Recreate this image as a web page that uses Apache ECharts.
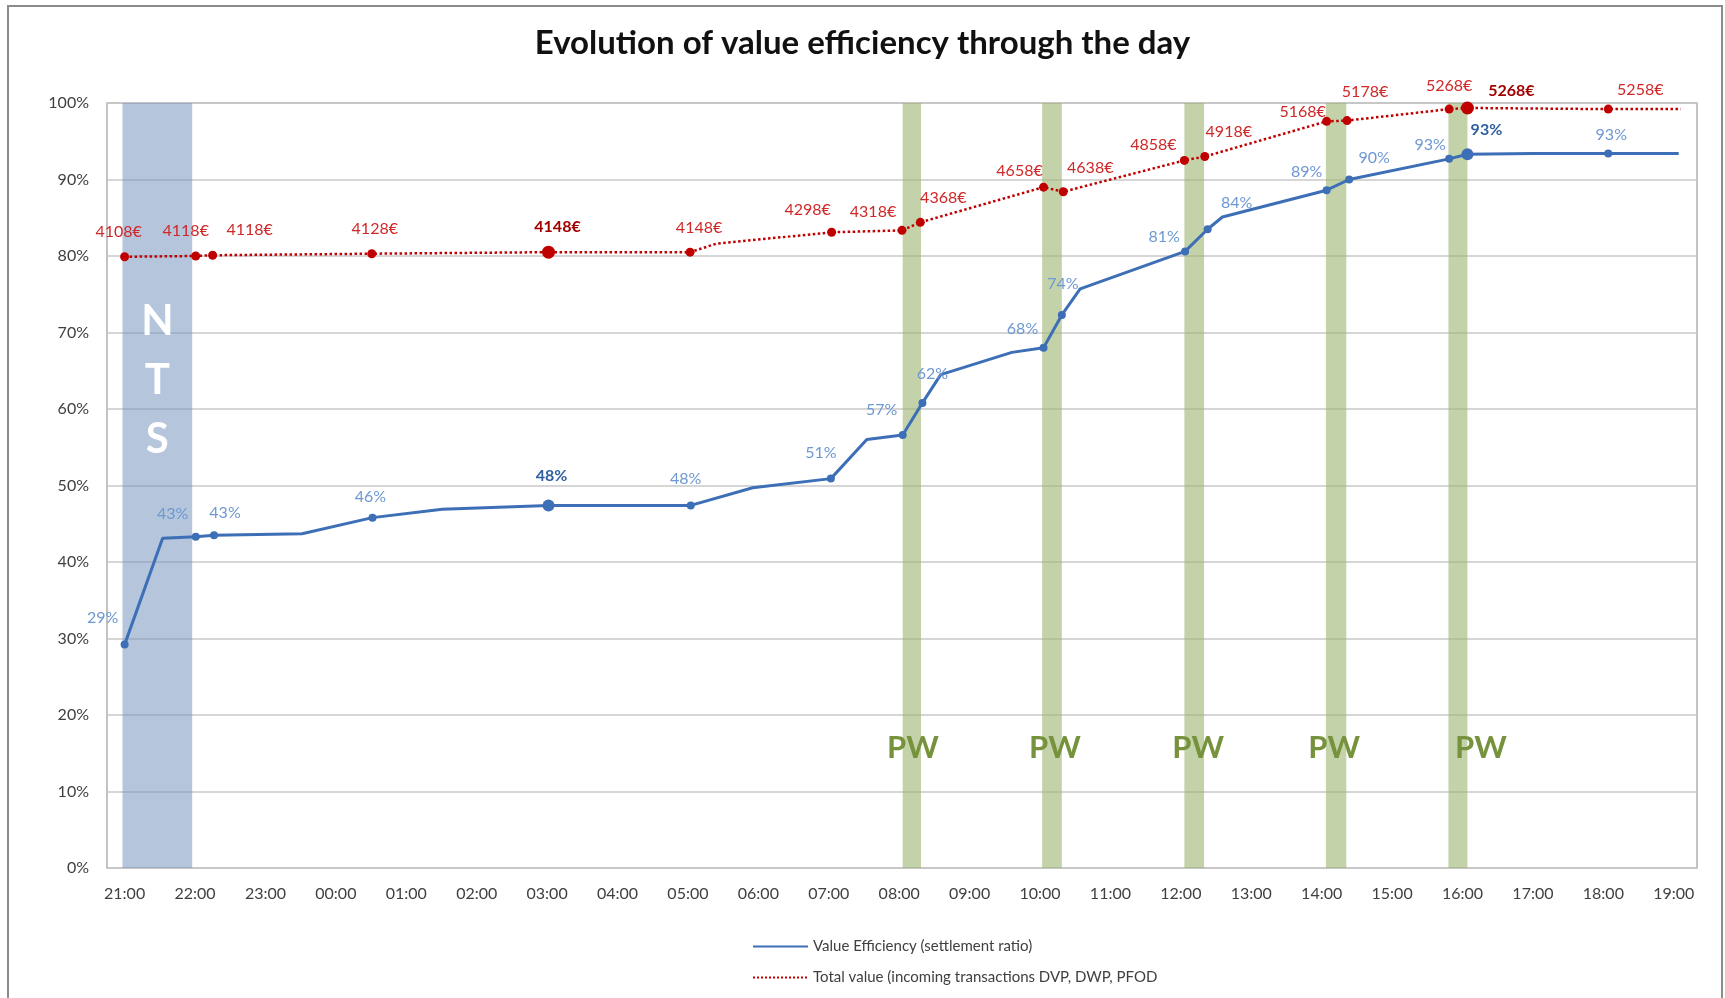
<!DOCTYPE html>
<html>
<head>
<meta charset="utf-8">
<title>Evolution of value efficiency through the day</title>
<script src="https://cdn.jsdelivr.net/npm/echarts@6/dist/echarts.min.js"></script>
<style>
  html, body { margin: 0; padding: 0; background: #fff; }
  #chart { width: 1725px; height: 998px; }
</style>
</head>
<body>
<div id="chart"></div>
<script>
// x positions are hours counted from 21:00 (0 = 21:00, 22 = 19:00 next day)
const xLabels = ['21:00', '22:00', '23:00', '00:00', '01:00', '02:00', '03:00', '04:00', '05:00', '06:00', '07:00', '08:00',
  '09:00', '10:00', '11:00', '12:00', '13:00', '14:00', '15:00', '16:00', '17:00', '18:00', '19:00']

// Value efficiency (settlement ratio), %
const effTime = [0, 0.54, 1.01, 1.27, 2.52, 3.52, 4.51, 6.02, 8.04, 8.92, 10.03, 10.54, 11.05, 11.33, 11.59, 12.6, 13.05, 13.31, 13.57, 15.06,
  15.38, 15.59, 17.07, 17.39, 18.81, 19.07, 20.0, 21.07, 22.07]
const effValue = [29.2, 43.1, 43.3, 43.5, 43.7, 45.8, 46.9, 47.4, 47.4, 49.7, 50.9, 56.0, 56.6, 60.8, 64.5, 67.4, 68.0, 72.3, 75.7, 80.6,
  83.5, 85.1, 88.6, 90.0, 92.7, 93.3, 93.4, 93.4, 93.4]
const effLabel = ['29%', '', '43%', '43%', '', '46%', '', '48%', '48%', '', '51%', '', '57%', '62%', '', '', '68%', '74%', '', '81%',
  '84%', '', '89%', '90%', '93%', '93%', '', '93%', '']

// Total value (incoming transactions), plotted as % of the day's total
const totTime = [0, 1.01, 1.25, 3.51, 6.02, 8.03, 8.4, 10.04, 11.04, 11.3, 13.05, 13.33, 15.05, 15.34, 17.07, 17.36, 18.81, 19.07, 21.07, 22.1]
const totValue = [79.9, 80.0, 80.1, 80.3, 80.5, 80.5, 81.6, 83.1, 83.35, 84.4, 89.0, 88.4, 92.5, 93.0, 97.6, 97.7, 99.2, 99.35, 99.2, 99.2]
const totLabel = ['4108€', '4118€', '4118€', '4128€', '4148€', '4148€', '', '4298€', '4318€', '4368€', '4658€', '4638€', '4858€', '4918€',
  '5168€', '5178€', '5268€', '5268€', '5258€', '']

// highlighted points (03:00 and 16:00)
const keyTimes = [6.02, 19.07]

// night-time settlement and partial windows
const ntsBand = [-0.03, 0.96]
const pwBands = [[11.05, 11.31], [13.03, 13.31], [15.05, 15.33], [17.06, 17.35], [18.8, 19.07]]

// label offsets (px) for the labelled points, in order
const effOffsets = [[-22, -27], [-23, -23], [11, -22], [-2, -21], [3, -30], [-5, -27], [-10, -26], [-21, -25], [10, -29],
  [-21, -19], [1, -31], [-21, -15], [29, -26], [-20, -18], [25, -22], [-19, -14], [19, -24], [3, -19]]
const totOffsets = [[-6, -25], [-10, -25], [37, -25], [3, -25], [9, -25], [9, -24], [-24, -22], [-29, -19], [23, -24],
  [-24, -16], [27, -24], [-31, -16], [24, -25], [-24, -10], [18, -29], [0, -23], [44, -17], [32, -19]]
const pwLabelShift = [1, 3, 4, -2, 23]

const FONT = 'Lato, "Open Sans", sans-serif'
const BLUE = '#3d6fb6'
const RED = '#c00000'

function buildData(times, values, labels, offsets, color, keyColor, size, keySize) {
  let k = 0
  return times.map((t, i) => {
    const item = { value: [t, values[i]] }
    if (!labels[i]) {
      item.symbol = 'none'
      return item
    }
    const key = keyTimes.includes(t)
    item.symbol = 'circle'
    item.symbolSize = key ? keySize : size
    item.label = {
      show: true,
      position: 'inside',
      formatter: labels[i],
      offset: offsets[k++],
      color: key ? keyColor : color,
      fontWeight: key ? 'bold' : 'normal',
      fontSize: 16,
      fontFamily: FONT
    }
    return item
  })
}

const chart = echarts.init(document.getElementById('chart'))

chart.setOption({
  animation: false,
  title: {
    text: 'Evolution of value efficiency through the day',
    left: 'center',
    top: 22,
    textStyle: { fontSize: 33, fontWeight: 'bold', color: '#111', fontFamily: FONT }
  },
  graphic: [{
    type: 'rect',
    silent: true,
    shape: { x: 8, y: 6, width: 1714, height: 1010 },
    style: { fill: 'none', stroke: '#8c8c8c', lineWidth: 2 }
  }],
  legend: {
    data: ['Value Efficiency (settlement ratio)', 'Total value (incoming transactions DVP, DWP, PFOD'],
    orient: 'vertical',
    left: 747,
    top: 934,
    itemWidth: 55,
    itemHeight: 14,
    itemGap: 16,
    selectedMode: false,
    itemStyle: { opacity: 0 },
    textStyle: { fontSize: 15, color: '#404040', fontFamily: FONT }
  },
  grid: {
    left: 107,
    right: 28,
    top: 103,
    bottom: 130,
    show: true,
    borderColor: '#b0b0b0',
    borderWidth: 1.5
  },
  xAxis: {
    type: 'value',
    min: -0.25,
    max: 22.33,
    axisLine: { show: false },
    axisTick: { show: false },
    splitLine: { show: false },
    axisLabel: {
      customValues: xLabels.map((_, i) => i),
      formatter: v => xLabels[Math.round(v)],
      color: '#404040',
      fontSize: 16,
      fontFamily: FONT,
      margin: 18
    }
  },
  yAxis: {
    type: 'value',
    min: 0,
    max: 100,
    interval: 10,
    axisLine: { show: false },
    axisTick: { show: false },
    splitLine: { lineStyle: { color: '#c8c8c8', width: 1.5 } },
    axisLabel: {
      formatter: '{value}%',
      color: '#404040',
      fontSize: 16,
      fontFamily: FONT,
      margin: 18
    }
  },
  series: [{
    name: 'bands',
    type: 'line',
    data: [],
    z: 1,
    markArea: {
      silent: true,
      data: [
        [{
          xAxis: ntsBand[0], yAxis: 0,
          itemStyle: { color: 'rgba(119,150,191,0.55)' },
          label: {
            show: true,
            formatter: 'N\nT\nS',
            position: ['50%', '36.3%'],
            align: 'center',
            verticalAlign: 'middle',
            color: '#fff',
            fontSize: 42,
            lineHeight: 59,
            fontWeight: 'bold',
            fontFamily: FONT
          }
        }, { xAxis: ntsBand[1], yAxis: 100 }]
      ].concat(pwBands.map((b, i) => [{
        xAxis: b[0], yAxis: 0,
        itemStyle: { color: 'rgba(157,180,113,0.6)' },
        label: {
          show: true,
          formatter: 'PW',
          position: ['50%', '84.3%'],
          offset: [pwLabelShift[i], 0],
          align: 'center',
          verticalAlign: 'middle',
          color: '#76923c',
          fontSize: 31,
          fontWeight: 'bold',
          fontFamily: FONT
        }
      }, { xAxis: b[1], yAxis: 100 }]))
    }
  }, {
    name: 'Value Efficiency (settlement ratio)',
    type: 'line',
    z: 3,
    symbol: 'none',
    showAllSymbol: true,
    silent: true,
    data: buildData(effTime, effValue, effLabel, effOffsets, '#6d98d2', '#2f5f9f', 8, 12),
    lineStyle: { color: BLUE, width: 3 },
    itemStyle: { color: BLUE }
  }, {
    name: 'Total value (incoming transactions DVP, DWP, PFOD',
    type: 'line',
    z: 4,
    symbol: 'none',
    showAllSymbol: true,
    silent: true,
    data: buildData(totTime, totValue, totLabel, totOffsets, '#d02828', '#a00000', 9, 13),
    lineStyle: { color: RED, width: 2.5, type: 'dotted' },
    itemStyle: { color: RED }
  }]
})
</script>
</body>
</html>
